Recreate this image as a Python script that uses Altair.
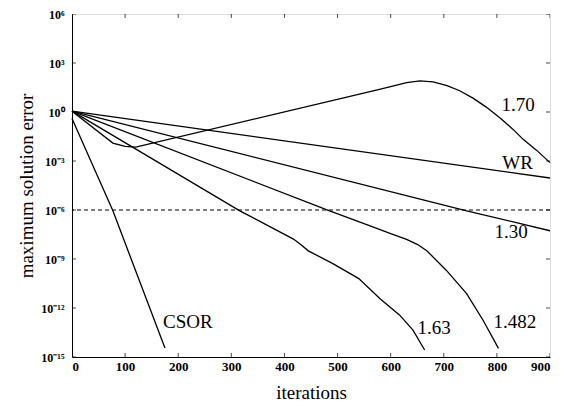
import altair as alt
import pandas as pd

# log10(maximum solution error)
csor_x = [0, 77, 175]
csor_e = [-0.4, -6.05, -14.45]

wr_x = [0, 900]
wr_e = [0.05, -4.04]

w130_x = [0, 743, 900]
w130_e = [0.05, -6.05, -7.27]

w1482_x = [0, 485, 560, 600, 630, 650, 668, 705, 743, 774, 803]
w1482_e = [0.05, -6.05, -6.95, -7.45, -7.8, -8.1, -8.49, -9.7, -11.12, -12.75, -14.47]

w163_x = [0, 316, 417, 430, 445, 492, 540, 580, 617, 642, 664]
w163_e = [0.05, -6.05, -7.78, -8.1, -8.5, -9.3, -10.2, -11.43, -12.44, -13.35, -14.57]

w170_x = [0, 77, 100, 120, 567, 600, 630, 655, 680, 706, 730, 755, 780, 806, 830, 850, 875, 900]
w170_e = [0.05, -1.9, -2.1, -2.15, 1.3, 1.55, 1.8, 1.9, 1.85, 1.62, 1.3, 0.85, 0.3, -0.37, -1.05, -1.69, -2.35, -3.1]

series = [
    ("CSOR", csor_x, csor_e),
    ("WR", wr_x, wr_e),
    ("1.30", w130_x, w130_e),
    ("1.482", w1482_x, w1482_e),
    ("1.63", w163_x, w163_e),
    ("1.70", w170_x, w170_e),
]

label_text = ["1.70", "WR", "1.30", "CSOR", "1.63", "1.482"]
label_x = [840, 839, 827, 218, 682, 834]
label_e = [0.43, -3.1, -7.33, -12.87, -13.2, -12.84]

x_ticks = [0, 100, 200, 300, 400, 500, 600, 700, 800, 900]
y_ticks = [-15, -12, -9, -6, -3, 0, 3, 6]
threshold = -6

rows = []
for name, xs_, es_ in series:
    for i, (a, b) in enumerate(zip(xs_, es_)):
        rows.append({"series": name, "it": a, "e": b, "order": i})
df = pd.DataFrame(rows)
labels = pd.DataFrame({"t": label_text, "it": label_x, "e": label_e})

lab = ("'10' + replace(replace(replace(replace(replace(replace(replace(replace("
       "toString(datum.value),'-','⁻'),'0','⁰'),'1','¹'),'2','²'),'3','³'),'5','⁵'),'6','⁶'),'9','⁹')")

xs = alt.Scale(domain=[0, 900], nice=False, zero=False)
ys = alt.Scale(domain=[-15, 6], nice=False, zero=False)

FONT = "Liberation Serif"

lines = alt.Chart(df).mark_line(color="black", strokeWidth=1.3).encode(
    x=alt.X("it:Q", scale=xs, axis=alt.Axis(values=x_ticks, title="iterations", ticks=False,
                                             labelFont=FONT, labelFontWeight="bold", labelFontSize=13,
                                             labelPadding=3, titleFont=FONT, titleFontSize=19,
                                             titleFontWeight="normal", titlePadding=10, grid=False,
                                             domainColor="black", labelColor="black", titleColor="black")),
    y=alt.Y("e:Q", scale=ys, axis=alt.Axis(values=y_ticks, title="maximum solution error", ticks=False,
                                            labelExpr=lab, labelFont=FONT, labelFontWeight="bold",
                                            labelFontSize=12, labelPadding=8, titleFont=FONT,
                                            titleFontSize=19, titleFontWeight="normal", titlePadding=4,
                                            grid=False, domainColor="black", labelColor="black",
                                            titleColor="black")),
    detail="series:N",
    order="order:Q",
)

dash = alt.Chart(pd.DataFrame({"e": [threshold]})).mark_rule(
    color="black", strokeDash=[4, 3], strokeWidth=1.1
).encode(y=alt.Y("e:Q", scale=ys))

txt = alt.Chart(labels).mark_text(font=FONT, fontSize=19, color="black").encode(
    x=alt.X("it:Q", scale=xs), y=alt.Y("e:Q", scale=ys), text="t:N"
)

xt = pd.DataFrame([{"it": v, "e": b} for v in x_ticks for b in (-15, 6)])
yt = pd.DataFrame([{"it": b, "e": v} for v in y_ticks for b in (0, 900)])
xtick_marks = alt.Chart(xt).mark_tick(orient="vertical", size=8, thickness=1, color="black", clip=True).encode(
    x=alt.X("it:Q", scale=xs), y=alt.Y("e:Q", scale=ys))
ytick_marks = alt.Chart(yt).mark_tick(orient="horizontal", size=8, thickness=1, color="black", clip=True).encode(
    x=alt.X("it:Q", scale=xs), y=alt.Y("e:Q", scale=ys))

chart = alt.layer(lines, dash, txt, xtick_marks, ytick_marks).properties(
    width=478, height=343,
    autosize=alt.AutoSizeParams(type="none"),
    padding={"left": 64, "top": 6, "right": 3, "bottom": 49},
).configure_view(stroke="black", strokeWidth=1.2).configure(background="white")

chart.save("out.html", embed_options={"renderer": "svg", "actions": False})
